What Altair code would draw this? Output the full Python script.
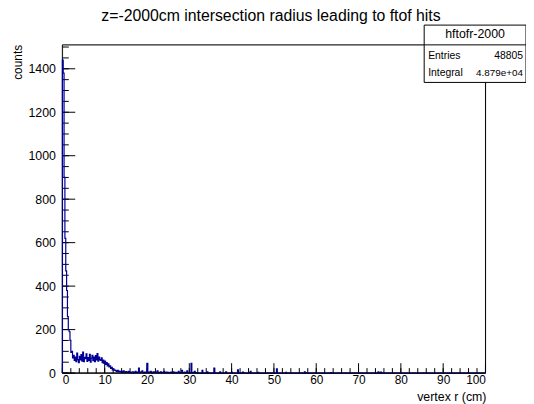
import altair as alt
import pandas as pd

# ---------------- data ----------------
BIN_WIDTH = 0.2  # cm
# counts per 0.2 cm bin from r = 0 to r = 32 cm
dense_counts = [
    1440, 1380, 900, 620, 470, 380, 260, 200, 190, 150, 95, 100, 70,
    82, 58, 74, 52, 92, 62, 48, 77, 60, 85, 55, 96, 53, 72, 66, 88, 54, 71, 58, 86, 50,
    69, 82, 57, 73, 52, 80, 61, 90, 55, 74, 62,
    58, 70, 48, 60, 44, 55, 40, 48, 33, 42, 28, 33, 22, 26, 15, 20, 12, 14,
    10, 6, 12, 5, 9, 7, 4, 8, 3, 10, 6, 2, 7, 4, 3, 8, 2,
    5, 2, 4, 6, 1, 3, 8, 2, 5, 3,
    23, 4, 2, 6, 10, 3, 1, 4, 2, 5,
    45, 3, 5, 2, 8, 1, 4, 2, 6, 3,
    2, 4, 10, 1, 3, 2, 6, 1, 3, 2,
    8, 1, 2, 5, 1, 3, 2, 1, 4, 2,
    1, 6, 2, 1, 3, 1, 2, 8, 1, 2,
    3, 12, 1, 2, 4, 1, 2, 10, 1, 3,
    2, 1, 45, 2, 1, 3, 8, 1, 2, 1,
]
# isolated filled bins beyond 32 cm
sparse_r = [33.0, 34.2, 35.8, 37.2, 38.6, 40.0, 41.4, 42.6, 44.4, 46.2, 50.6, 52.8, 57.2, 63.4, 74.6, 75.2]
sparse_counts = [12, 6, 23, 6, 6, 3, 15, 4, 8, 3, 20, 3, 6, 2, 6, 5]

x_major = [0, 10, 20, 30, 40, 50, 60, 70, 80, 90, 100]
x_minor = list(range(0, 101, 2))
y_major = [0, 200, 400, 600, 800, 1000, 1200, 1400]
y_minor = list(range(0, 1501, 50))

title_text = "z=-2000cm intersection radius leading to ftof hits"
x_title = "vertex r (cm)"
y_title = "counts"
stat_name = "hftofr-2000"
stat_labels = ["Entries", "Integral"]
stat_values = ["48805", "4.879e+04"]

# ---------------- build histogram outline ----------------
NBINS = 500
counts = [0] * NBINS
for i, c in enumerate(dense_counts):
    counts[i] = c
for r, c in zip(sparse_r, sparse_counts):
    counts[int(round(r / BIN_WIDTH))] = c

xs = [0.0] + [i * BIN_WIDTH for i in range(NBINS)] + [NBINS * BIN_WIDTH]
ys = [0] + counts + [counts[-1]]
hist = pd.DataFrame({"r": xs, "n": ys, "o": list(range(len(xs)))})

W, H = 428, 332
FONT = "Liberation Sans"
xscale = alt.Scale(domain=[0, 100], nice=False, zero=False)
yscale = alt.Scale(domain=[0, 1510], nice=False)
xaxis = alt.Axis(values=x_major, ticks=False, domain=False, grid=False, title=None, format="d",
                 labelFont=FONT, labelFontSize=12, labelColor="black", labelPadding=2)
yaxis = alt.Axis(values=y_major, ticks=False, domain=False, grid=False, title=None, format="d",
                 labelFont=FONT, labelFontSize=12.5, labelColor="black", labelPadding=7)

line = alt.Chart(hist).mark_line(interpolate="step-after", color="#000096", strokeWidth=1.2).encode(
    x=alt.X("r:Q", scale=xscale, axis=xaxis),
    y=alt.Y("n:Q", scale=yscale, axis=yaxis),
    order="o:Q",
)

xt_major = alt.Chart(pd.DataFrame({"r": x_major})).mark_rule(color="black").encode(
    x=alt.X("r:Q", scale=xscale, axis=xaxis), y=alt.value(H), y2=alt.value(H - 10))
xt_minor = alt.Chart(pd.DataFrame({"r": x_minor})).mark_rule(color="black").encode(
    x=alt.X("r:Q", scale=xscale, axis=xaxis), y=alt.value(H), y2=alt.value(H - 5))
yt_major = alt.Chart(pd.DataFrame({"n": y_major})).mark_rule(color="black").encode(
    y=alt.Y("n:Q", scale=yscale, axis=yaxis), x=alt.value(0), x2=alt.value(13))
yt_minor = alt.Chart(pd.DataFrame({"n": y_minor})).mark_rule(color="black").encode(
    y=alt.Y("n:Q", scale=yscale, axis=yaxis), x=alt.value(0), x2=alt.value(6.5))

frame = alt.Chart(pd.DataFrame({"a": [0]})).mark_rect(filled=False, stroke="black", strokeWidth=1).encode(
    x=alt.value(0), x2=alt.value(W), y=alt.value(0), y2=alt.value(H))
bottom = alt.Chart(pd.DataFrame({"a": [0]})).mark_rule(color="black").encode(
    x=alt.value(0), x2=alt.value(W), y=alt.value(H))

def text(t, x, y, size, align="left", angle=0, baseline="middle"):
    kw = dict(align=align, baseline=baseline, font=FONT, fontSize=size, color="black")
    if angle:
        kw["angle"] = angle
    return alt.Chart(pd.DataFrame({"t": [t]})).mark_text(**kw).encode(
        text="t:N", x=alt.value(x), y=alt.value(y))

title = text(title_text, 211, -29, 16, align="center")
xlab = text(x_title, W + 1, 360, 12.5, align="right", baseline="alphabetic")
ylab = text(y_title, -41, 0, 12, align="right", angle=270, baseline="alphabetic")

box = alt.Chart(pd.DataFrame({"a": [0]})).mark_rect(fill="white", stroke="black", strokeWidth=1).encode(
    x=alt.value(366), x2=alt.value(469), y=alt.value(-20), y2=alt.value(38))
sep = alt.Chart(pd.DataFrame({"a": [0]})).mark_rule(color="black").encode(
    x=alt.value(366), x2=alt.value(469), y=alt.value(0))
stat_title = text(stat_name, 417.5, -11, 12.5, align="center")
s1 = text(stat_labels[0], 370, 11, 10.5)
s2 = text(stat_values[0], 466, 11, 10.5, align="right")
s3 = text(stat_labels[1], 370, 28, 10.5)
s4 = text(stat_values[1], 466, 28, 10, align="right")

chart = alt.layer(
    frame, xt_minor, xt_major, yt_minor, yt_major, line, bottom,
    box, sep, stat_title, s1, s2, s3, s4, title, xlab, ylab,
).properties(
    width=W, height=H,
    autosize=alt.AutoSizeParams(type="none"),
    padding={"left": 55, "top": 35, "right": 41, "bottom": 29},
).configure_view(stroke=None).configure(background="white")

chart.save("out.html", embed_options={"renderer": "svg", "actions": False})
